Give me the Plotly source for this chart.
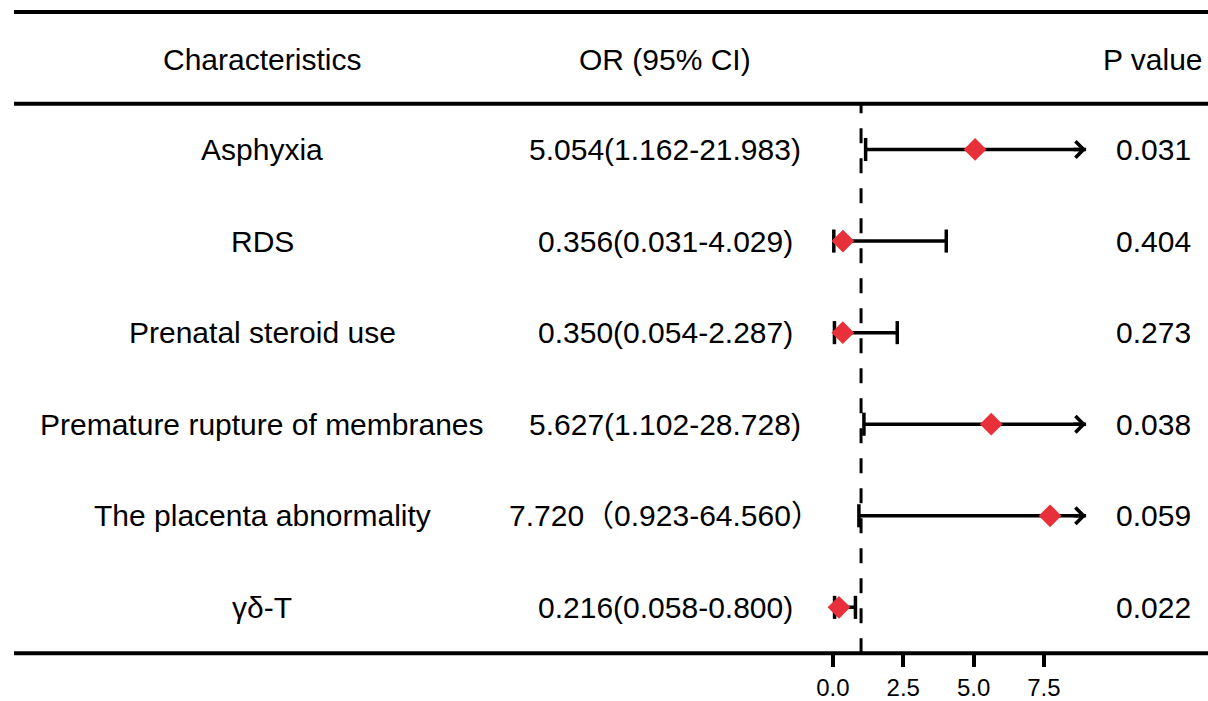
import plotly.graph_objects as go

# ---- data ----
characteristics = ["Asphyxia", "RDS", "Prenatal steroid use",
                   "Premature rupture of membranes", "The placenta abnormality", "γδ-T"]
or_values = [5.054, 0.356, 0.350, 5.627, 7.720, 0.216]
ci_lower = [1.162, 0.031, 0.054, 1.102, 0.923, 0.058]
ci_upper = [21.983, 4.029, 2.287, 28.728, 64.560, 0.800]
or_text = ["5.054(1.162-21.983)", "0.356(0.031-4.029)", "0.350(0.054-2.287)",
           "5.627(1.102-28.728)", "7.720（0.923-64.560）", "0.216(0.058-0.800)"]
p_values = ["0.031", "0.404", "0.273", "0.038", "0.059", "0.022"]
headers = ["Characteristics", "OR (95% CI)", "P value"]
tick_vals = [0, 2.5, 5, 7.5]
ref_line = 1
x_clip = 9

# ---- styling / layout constants ----
W, H = 1208, 701
FONT = "Liberation Sans, Arial, Noto Sans CJK SC, sans-serif"
RED = "#E8303A"
col_x = [260 / W, 664 / W, 1153 / W]
y_top_line = 12
y_header = 60
y_head_line = 104
y_bottom_line = 655

def py(pix):
    return 1 - pix / H

rows = list(range(len(characteristics)))

fig = go.Figure()

# CI lines (clipped)
for i in rows:
    hi = min(ci_upper[i], x_clip)
    fig.add_trace(go.Scatter(x=[ci_lower[i], hi], y=[i, i], mode="lines",
                             line=dict(color="black", width=3.5),
                             hoverinfo="skip", showlegend=False, cliponaxis=False))

# caps: lower always, upper when not clipped
cap_x = list(ci_lower) + [u for u in ci_upper if u <= x_clip]
cap_y = rows + [i for i in rows if ci_upper[i] <= x_clip]
fig.add_trace(go.Scatter(x=cap_x, y=cap_y, mode="markers",
                         marker=dict(symbol="line-ns", size=16.5,
                                     line=dict(color="black", width=3.5)),
                         hoverinfo="skip", showlegend=False, cliponaxis=False))

# OR diamonds
fig.add_trace(go.Scatter(x=or_values, y=rows, mode="markers",
                         marker=dict(symbol="diamond", size=17.5, color=RED,
                                     line=dict(width=0)),
                         hoverinfo="skip", showlegend=False, cliponaxis=False))

annotations = []
# arrows for clipped CIs
for i in rows:
    if ci_upper[i] > x_clip:
        annotations.append(dict(x=x_clip, y=i, ax=x_clip - 0.5, ay=i,
                                xref="x", yref="y", axref="x", ayref="y",
                                showarrow=True, arrowhead=4, arrowsize=0.9,
                                arrowwidth=3.5, arrowcolor="black", text="",
                                standoff=0))

# headers
for cx, h in zip(col_x, headers):
    annotations.append(dict(x=cx, y=py(y_header), xref="paper", yref="paper",
                            text=h, showarrow=False, xanchor="center", yanchor="middle",
                            font=dict(family=FONT, size=30, color="black")))

# table text
for i in rows:
    for cx, t in zip(col_x, [characteristics[i], or_text[i], p_values[i]]):
        annotations.append(dict(x=cx, y=i, xref="paper", yref="y", text=t,
                                showarrow=False, xanchor="center", yanchor="middle",
                                font=dict(family=FONT, size=30, color="black")))

shapes = []
for yp in [y_top_line, y_head_line, y_bottom_line]:
    shapes.append(dict(type="line", xref="paper", yref="paper",
                       x0=11 / W, x1=1, y0=py(yp), y1=py(yp),
                       line=dict(color="black", width=4)))
shapes.append(dict(type="line", xref="x", yref="paper", x0=ref_line, x1=ref_line,
                   y0=py(y_bottom_line), y1=py(y_head_line),
                   line=dict(color="black", width=3, dash="15px,15px")))

fig.update_layout(
    width=W, height=H,
    margin=dict(l=0, r=0, t=0, b=0),
    paper_bgcolor="white", plot_bgcolor="white",
    hovermode=False,
    xaxis=dict(domain=[817.9 / W, 1099.9 / W], range=[-0.5, 9.5],
               showgrid=False, zeroline=False, showline=False,
               tickvals=tick_vals, tickformat=".1f",
               ticks="outside", ticklen=13, tickwidth=3.5, tickcolor="black",
               tickfont=dict(family=FONT, size=24, color="black")),
    yaxis=dict(domain=[py(y_bottom_line), py(y_head_line)], range=[5.5, -0.5],
               showgrid=False, zeroline=False, showline=False,
               showticklabels=False, ticks=""),
    annotations=annotations,
    shapes=shapes,
)

fig.write_html("out.html", config={"displayModeBar": False},
               post_script="document.body.style.margin='0';document.body.style.overflow='hidden';")
